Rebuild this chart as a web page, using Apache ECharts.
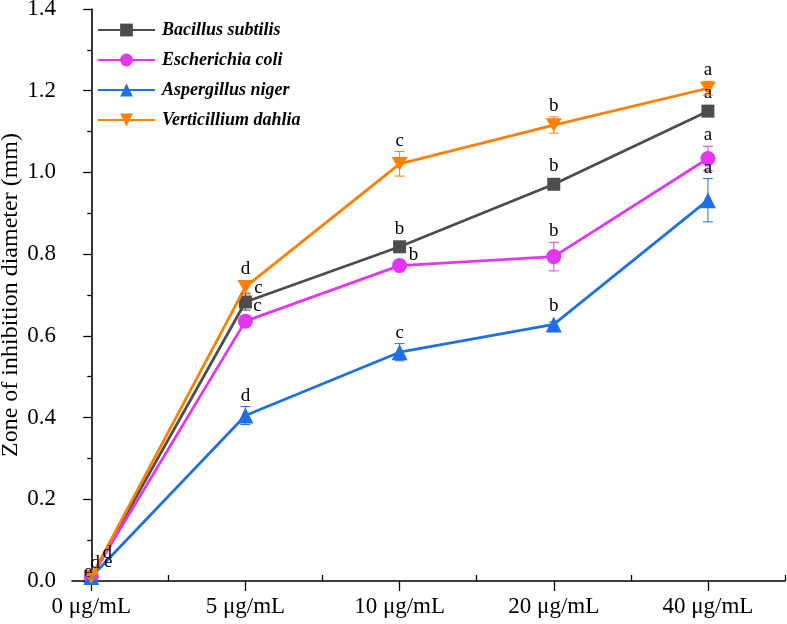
<!DOCTYPE html>
<html>
<head>
<meta charset="utf-8">
<script src="https://cdn.jsdelivr.net/npm/echarts@6/dist/echarts.min.js"></script>
<style>html,body{margin:0;padding:0;background:#fff}#c{width:787px;height:624px}</style>
</head>
<body>
<div id="c"></div>
<script>
// ---- data ----
const categories = ['0 μg/mL', '5 μg/mL', '10 μg/mL', '20 μg/mL', '40 μg/mL'];
const seriesNames = ['Bacillus subtilis', 'Escherichia coli', 'Aspergillus niger', 'Verticillium dahlia'];
const bacillus = [0.010, 0.683, 0.818, 0.971, 1.150];
const bacillusErr = [0.003, 0.020, 0.008, 0.008, 0.006];
const bacillusLetters = ['e', 'c', 'b', 'b', 'a'];
const ecoli = [0.010, 0.636, 0.772, 0.794, 1.034];
const ecoliErr = [0.003, 0.012, 0.008, 0.035, 0.030];
const ecoliLetters = ['d', 'c', 'b', 'b', 'a'];
const niger = [0.010, 0.405, 0.560, 0.628, 0.932];
const nigerErr = [0.003, 0.022, 0.021, 0.006, 0.053];
const nigerLetters = ['e', 'd', 'c', 'b', 'a'];
const dahlia = [0.010, 0.720, 1.021, 1.116, 1.206];
const dahliaErr = [0.003, 0.015, 0.030, 0.020, 0.017];
const dahliaLetters = ['d', 'd', 'c', 'b', 'a'];
const yTicks = [0, 0.2, 0.4, 0.6, 0.8, 1.0, 1.2, 1.4];

// ---- presentation ----
const colors = ['#4d4d4d', '#e236f2', '#1f70e6', '#ff8000'];
const symbols = ['rect', 'circle', 'triangle', 'path://M0,0 L10,0 L5,9 Z'];
const symbolSizes = [13, 15, 16, 16];
// label offsets (px, relative to marker centre) for letters placed beside markers; null = above error bar
const labelOffsets = [
  [[-3, -5], [13, -14], null, null, null],
  [[4, -14], [12, -15], [14, -11], null, null],
  [[17, -15], null, null, null, null],
  [[16, -24], null, null, null, null]
];
const SERIF = '"Liberation Serif", "Times New Roman", serif';

const allVals = [bacillus, ecoli, niger, dahlia];
const allErr = [bacillusErr, ecoliErr, nigerErr, dahliaErr];
const allLetters = [bacillusLetters, ecoliLetters, nigerLetters, dahliaLetters];

const series = [];
seriesNames.forEach((name, s) => {
  series.push({
    name: name,
    type: 'line',
    data: allVals[s].map((v, i) => [i, v]),
    symbol: symbols[s],
    symbolSize: symbols[s].startsWith('path') ? [16, 15] : symbolSizes[s],
    symbolKeepAspect: true,
    lineStyle: { color: colors[s], width: 2.8 },
    itemStyle: { color: colors[s] },
    z: 3 + s,
    animation: false
  });
});
seriesNames.forEach((name, s) => {
  series.push({
    type: 'custom',
    name: name + ' err',
    data: allVals[s].map((v, i) => [i, v, allErr[s][i]]),
    z: 10 + s,
    silent: true,
    animation: false,
    renderItem: function (params, api) {
      const i = api.value(0), v = api.value(1), e = api.value(2);
      const p = api.coord([i, v]);
      const top = api.coord([i, v + e]);
      const bot = api.coord([i, v - e]);
      const hw = 5;
      const st = { stroke: colors[s], lineWidth: 1 };
      const children = [
        { type: 'line', shape: { x1: top[0], y1: top[1], x2: bot[0], y2: bot[1] }, style: st },
        { type: 'line', shape: { x1: top[0] - hw, y1: top[1], x2: top[0] + hw, y2: top[1] }, style: st },
        { type: 'line', shape: { x1: bot[0] - hw, y1: bot[1], x2: bot[0] + hw, y2: bot[1] }, style: st }
      ];
      const off = labelOffsets[s][params.dataIndex];
      let lx, ly;
      if (off) { lx = p[0] + off[0]; ly = p[1] + off[1]; }
      else { lx = p[0]; ly = Math.min(top[1], p[1] - 7) - 11; }
      children.push({
        type: 'text', z2: 100,
        style: { text: allLetters[s][params.dataIndex], x: lx, y: ly, align: 'center', verticalAlign: 'middle',
          font: '19px ' + SERIF, fill: '#000' }
      });
      return { type: 'group', children: children };
    }
  });
});

const chart = echarts.init(document.getElementById('c'), null, { renderer: 'canvas' });
chart.setOption({
  animation: false,
  backgroundColor: '#fff',
  grid: { left: 72, right: 2, top: 9, bottom: 43, containLabel: false, outerBoundsMode: 'none' },
  legend: {
    orient: 'vertical', left: 97, top: 21, padding: 0,
    itemWidth: 57, itemHeight: 16, itemGap: 12,
    data: seriesNames,
    textStyle: { fontFamily: SERIF, fontSize: 18, fontWeight: 'bold', fontStyle: 'italic', color: '#000', padding: [0, 0, 0, 2] }
  },
  xAxis: [{
    type: 'value', min: -0.125, max: 4.5,
    axisLine: { show: true, onZero: false, lineStyle: { color: '#000', width: 1.6 } },
    axisTick: { show: true, inside: false, length: 10, lineStyle: { color: '#000', width: 1.3 }, customValues: [0, 1, 2, 3, 4] },
    axisLabel: { show: true, customValues: [0, 1, 2, 3, 4], formatter: v => categories[Math.round(v)],
      fontFamily: SERIF, fontSize: 23, color: '#000', margin: 14 },
    splitLine: { show: false }
  }, {
    type: 'value', min: -0.125, max: 4.5, position: 'bottom',
    axisLine: { show: false },
    axisTick: { show: true, inside: true, length: 6, lineStyle: { color: '#000', width: 1.3 }, customValues: [0.5, 1.5, 2.5, 3.5, 4.5] },
    axisLabel: { show: false },
    splitLine: { show: false }
  }],
  yAxis: {
    type: 'value', min: 0, max: 1.4, interval: 0.2,
    name: 'Zone of inhibition diameter (mm)', nameLocation: 'middle', nameGap: 49, nameMoveOverlap: false,
    nameTextStyle: { fontFamily: SERIF, fontSize: 24, color: '#000' },
    axisLine: { show: true, lineStyle: { color: '#000', width: 1.6 } },
    axisTick: { show: true, inside: false, length: 8, lineStyle: { color: '#000', width: 1.3 } },
    minorTick: { show: true, splitNumber: 2, length: 4, lineStyle: { color: '#000', width: 1.3 } },
    axisLabel: { formatter: v => yTicks.includes(Math.round(v * 10) / 10) ? v.toFixed(1) : '', fontFamily: SERIF, fontSize: 23, color: '#000', margin: 16 },
    splitLine: { show: false }
  },
  series: series
});
</script>
</body>
</html>
